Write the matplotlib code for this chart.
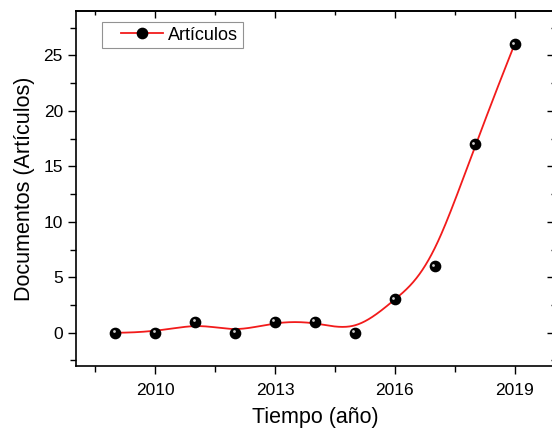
import numpy as np
import matplotlib
matplotlib.use("Agg")
import matplotlib.pyplot as plt
from matplotlib.lines import Line2D
from matplotlib.legend_handler import HandlerLine2D
from matplotlib.transforms import offset_copy
from matplotlib.ticker import MultipleLocator, FixedLocator

plt.rcParams["font.family"] = ["Liberation Sans", "DejaVu Sans"]

years = [2009, 2010, 2011, 2012, 2013, 2014, 2015, 2016, 2017, 2018, 2019]
articulos = [0, 0, 1, 0, 1, 1, 0, 3, 6, 17, 26]
x_ticks = [2010, 2013, 2016, 2019]
x_minor = [2008.5, 2011.5, 2014.5, 2017.5]

RED = "#f21b1b"


def bspline(px, py, n=600, k=3):
    """Clamped uniform B-spline with the data as control points (Origin style)."""
    px = np.asarray(px, float)
    py = np.asarray(py, float)
    m = len(px)
    knots = np.concatenate([np.zeros(k), np.linspace(0, 1, m - k + 1), np.ones(k)])
    t = np.linspace(0, 1, n)
    t[-1] -= 1e-9
    B = np.zeros((n, len(knots) - 1))
    for i in range(len(knots) - 1):
        B[:, i] = (t >= knots[i]) & (t < knots[i + 1])
    for d in range(1, k + 1):
        Bn = np.zeros((n, len(knots) - 1 - d))
        for i in range(len(knots) - 1 - d):
            a = knots[i + d] - knots[i]
            b = knots[i + d + 1] - knots[i + 1]
            left = (t - knots[i]) / a * B[:, i] if a > 0 else 0
            right = (knots[i + d + 1] - t) / b * B[:, i + 1] if b > 0 else 0
            Bn[:, i] = left + right
        B = Bn
    return B @ px, B @ py


class ShiftedLine(HandlerLine2D):
    # leave a gap on the left of the legend handle, like Origin does
    def create_artists(self, legend, orig_handle, xdescent, ydescent, width, height, fontsize, trans):
        shift = width * 0.26
        return super().create_artists(legend, orig_handle, xdescent - shift, ydescent,
                                      width - shift, height, fontsize, trans)


fig = plt.figure(figsize=(5.52, 4.29), dpi=100)
ax = fig.add_axes([75.5 / 552, 63 / 429, 479 / 552, 355 / 429])

sx, sy = bspline(years, articulos)
ax.plot(sx, sy, color=RED, lw=1.3, zorder=2)
ax.plot(years, articulos, ls="none", marker="o", ms=7.4, mfc="black", mec="black", zorder=3)
hl = offset_copy(ax.transData, fig=fig, x=-1.6, y=1.6, units="dots")
ax.plot(years, articulos, ls="none", marker="o", ms=2.0, mfc="#d0d0d0", mec="none",
        transform=hl, zorder=4)

ax.set_xlim(2008, 2020)
ax.set_ylim(-3, 29)
ax.set_xticks(x_ticks)
ax.xaxis.set_minor_locator(FixedLocator(x_minor))
ax.yaxis.set_major_locator(MultipleLocator(5))
ax.yaxis.set_minor_locator(MultipleLocator(2.5))
ax.tick_params(which="both", direction="out", labelsize=12.5, width=1,
               top=False, right=False)
ax.tick_params(axis="x", pad=6)
ax.tick_params(axis="y", pad=3)
ax.tick_params(which="major", length=6)
ax.tick_params(which="minor", length=4)
for s in ax.spines.values():
    s.set_linewidth(1.2)
ax.spines["right"].set_visible(False)

# top and right: mirrored ticks pointing inward (right spine falls outside the image)
sec_r = ax.secondary_yaxis("right")
sec_r.yaxis.set_major_locator(MultipleLocator(5))
sec_r.yaxis.set_minor_locator(MultipleLocator(2.5))
sec_r.tick_params(which="both", direction="in", labelright=False, width=1)
sec_r.tick_params(which="major", length=6)
sec_r.tick_params(which="minor", length=3)
sec_r.spines["right"].set_visible(False)

sec_t = ax.secondary_xaxis("top")
sec_t.set_xticks(x_ticks)
sec_t.xaxis.set_minor_locator(FixedLocator(x_minor))
sec_t.tick_params(which="both", direction="in", labeltop=False, width=1)
sec_t.tick_params(which="major", length=5)
sec_t.tick_params(which="minor", length=3)
sec_t.spines["top"].set_linewidth(1.2)

ax.set_xlabel("Tiempo (año)", fontsize=15.5, labelpad=7)
ax.set_ylabel("Documentos (Artículos)", fontsize=15.5, labelpad=6)

handle = Line2D([], [], color=RED, lw=1.3, marker="o", ms=7.4, mfc="black", mec="black")
leg = ax.legend([handle], ["Artículos"], loc="upper left",
                bbox_to_anchor=(26.5 / 479, 1 - 11 / 355),
                handler_map={Line2D: ShiftedLine()},
                fontsize=13, frameon=True, fancybox=False, handlelength=3.14,
                borderpad=0.25, handletextpad=0.28, borderaxespad=0)
leg.get_frame().set_edgecolor("#777777")
leg.get_frame().set_linewidth(0.8)

fig.savefig("out.png", dpi=100)
